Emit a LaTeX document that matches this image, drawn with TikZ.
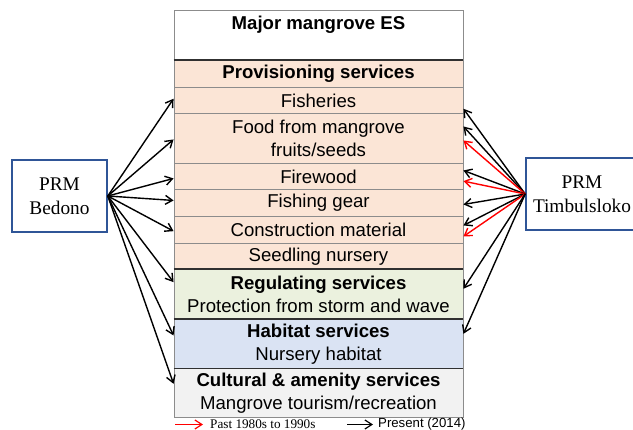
\documentclass[tikz,border=0pt]{standalone}
\usepackage{fontspec}
\setmainfont{Liberation Sans}
\newfontfamily\tnr{Liberation Serif}
\usetikzlibrary{arrows.meta,calc}
\definecolor{prov}{HTML}{FBE5D6}
\definecolor{regc}{HTML}{EBF1DE}
\definecolor{habc}{HTML}{DAE3F3}
\definecolor{culc}{HTML}{F2F2F2}
\definecolor{prmblue}{HTML}{2F5597}
\definecolor{cellline}{HTML}{8C8C8C}
\definecolor{sepline}{HTML}{303030}
\definecolor{arrred}{HTML}{FF0000}
\begin{document}
\begin{tikzpicture}[x=1pt,y=-1pt,
  cell/.style={draw=cellline, line width=0.9pt, minimum width=289pt, inner sep=0pt, align=center, anchor=north, font=\fontsize{18.6}{22.5}\selectfont},
  sepl/.style={draw=sepline, line width=1.5pt},
  prm/.style={draw=prmblue, line width=1.6pt, minimum height=72pt, inner sep=0pt, align=center, fill=white, font=\tnr\fontsize{19.3}{24}\selectfont},
  arr/.style={-{Straight Barb[length=7pt,width=9pt]}, line width=1.4pt},
  arrb/.style={arr, draw=black},
  arrr/.style={arr, draw=arrred},
  legtxt/.style={anchor=west, inner sep=0pt}
]
\useasboundingbox (0,0) rectangle (633,430);
\fill[white] (0,0) rectangle (633,430);
% column
\node[cell, fill=white, minimum height=50pt] (hdr) at (318.5,10) {};
\node[font=\bfseries\fontsize{18.6}{22}\selectfont, inner sep=0pt] (hdrt) at (318.5,25) {Major mangrove ES};
\node[cell, fill=prov, minimum height=27pt] (prv) at (318.5,60) {\textbf{Provisioning services}};
\node[cell, fill=prov, minimum height=26pt] (fish) at (318.5,87) {Fisheries};
\node[cell, fill=prov, minimum height=50pt] (food) at (318.5,113) {Food from mangrove\\fruits/seeds};
\node[cell, fill=prov, minimum height=26pt] (fire) at (318.5,163) {Firewood};
\node[cell, fill=prov, minimum height=27pt] (gear) at (318.5,189) {Fishing gear};
\node[cell, fill=prov, minimum height=27pt] (cons) at (318.5,216) {Construction material};
\node[cell, fill=prov, minimum height=26pt] (seed) at (318.5,243) {Seedling nursery};
\node[cell, fill=regc, minimum height=50pt] (reg) at (318.5,269) {\textbf{Regulating services}\\Protection from storm and wave};
\node[cell, fill=habc, minimum height=49.5pt] (hab) at (318.5,319) {\textbf{Habitat services}\\Nursery habitat};
\node[cell, fill=culc, minimum height=48.5pt] (cul) at (318.5,368.5) {\textbf{Cultural \& amenity services}\\Mangrove tourism/recreation};
\draw[sepl] (prv.north west) -- (prv.north east);
\draw[sepl] (reg.north west) -- (reg.north east);
\draw[sepl] (hab.north west) -- (hab.north east);
\draw[sepl] (cul.north west) -- (cul.north east);
% PRM boxes
\node[prm, minimum width=95pt] (bed) at (59.5,196) {PRM\\Bedono};
\node[prm, minimum width=112pt] (tim) at (582,194) {PRM\\Timbulsloko};
% Bedono arrows
\draw[arrb] (bed.east) -- ([yshift=1.7pt]fish.west);
\draw[arrb] (bed.east) -- ([yshift=-1pt]food.west);
\draw[arrb] (bed.east) -- ([yshift=-2pt]fire.west);
\draw[arrb] (bed.east) -- ([yshift=2.5pt]gear.west);
\draw[arrb] (bed.east) -- ([yshift=-1.2pt]cons.west);
\draw[arrb] (bed.east) -- ([yshift=12.3pt]reg.west);
\draw[arrb] (bed.east) -- ([yshift=8.7pt]hab.west);
\draw[arrb] (bed.east) -- ([yshift=9.4pt]cul.west);
% Timbulsloko arrows
\draw[arrb] (tim.west) -- ([yshift=-8.3pt]fish.east);
\draw[arrb] (tim.west) -- ([yshift=12pt]food.east);
\draw[arrr] (tim.west) -- ([yshift=-2pt]food.east);
\draw[arrb] (tim.west) -- ([yshift=6pt]fire.east);
\draw[arrr] (tim.west) -- ([yshift=-4.7pt]fire.east);
\draw[arrb] (tim.west) -- ([yshift=-1.5pt]gear.east);
\draw[arrb] (tim.west) -- ([yshift=4.5pt]cons.east);
\draw[arrr] (tim.west) -- ([yshift=-6.5pt]cons.east);
\draw[arrb] (tim.west) -- ([yshift=5.7pt]reg.east);
\draw[arrb] (tim.west) -- ([yshift=10.4pt]hab.east);
% legend
\coordinate (lrs) at (175,424.5);
\coordinate (lre) at (203,424.5);
\coordinate (lbs) at (347,424.5);
\coordinate (lbe) at (373,424.5);
\draw[arrr, line width=1.2pt] (lrs) -- (lre);
\draw[arrb, line width=1.2pt] (lbs) -- (lbe);
\node[legtxt, font=\tnr\fontsize{13.2}{15}\selectfont] (lpast) at (210,424) {Past 1980s to 1990s};
\node[legtxt, font=\fontsize{13.2}{15}\selectfont] (lpres) at (378,424) {Present (2014)};
\end{tikzpicture}
\end{document}
